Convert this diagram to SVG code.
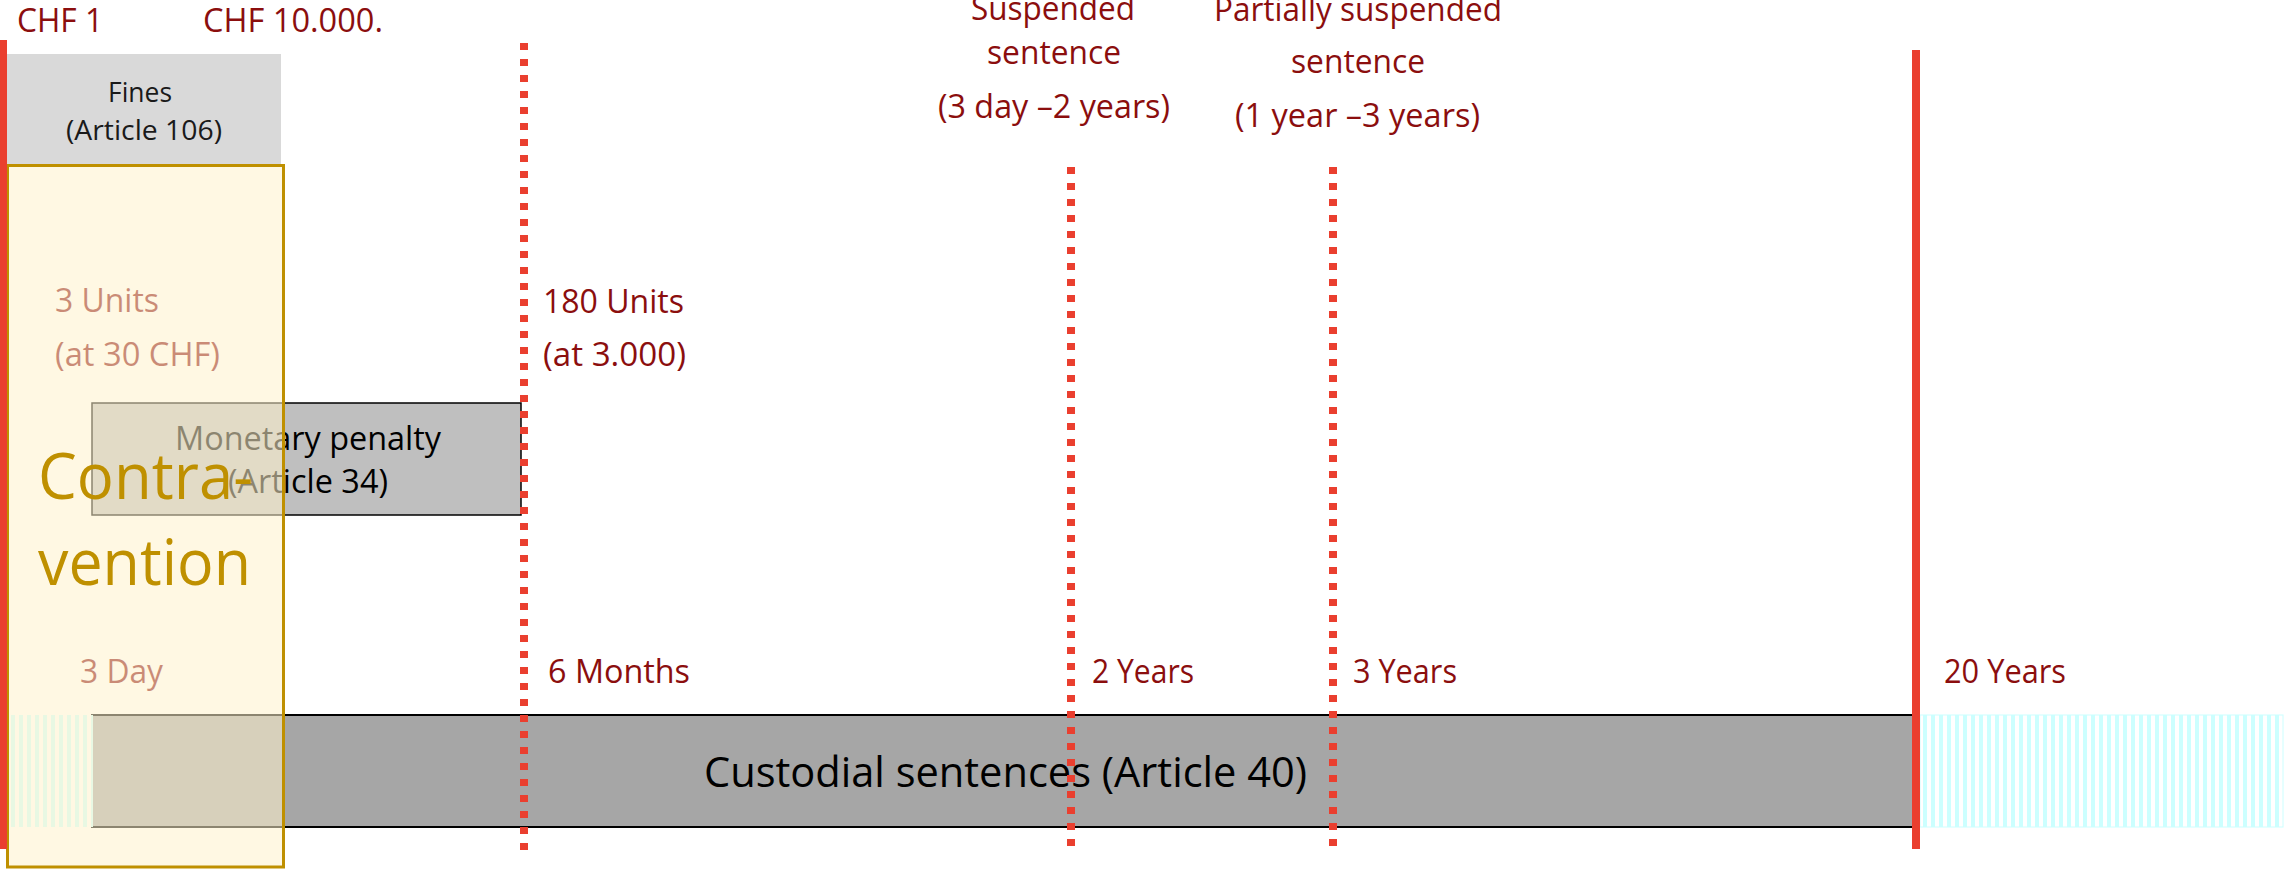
<svg xmlns="http://www.w3.org/2000/svg" width="2285" height="869" viewBox="0 0 2285 869">
  <style>
    text { font-family: "Open Sans", "Liberation Sans", sans-serif; }
    .lbl { font-size: 32.5px; fill: #8B0E0E; }
    .top { font-size: 33px; fill: #8B0E0E; }
    .blk { font-size: 32.5px; fill: #000000; }
    .fines { font-size: 28px; fill: #1a1a1a; }
    .big { font-size: 64px; fill: #BF9000; }
    .cust { font-size: 42px; fill: #000000; }
    .solid { fill: #EA3F2F; }
    .dot { stroke: #EA3F2F; stroke-width: 8; stroke-dasharray: 7 9; fill: none; }
  </style>
  <defs>
    <pattern id="vstripes" patternUnits="userSpaceOnUse" x="0" y="0" width="8" height="8">
      <rect x="0" y="0" width="8" height="8" fill="#FFFFFF"/>
      <rect x="3" y="0" width="4" height="8" fill="#CCFFFF"/>
    </pattern>
  </defs>

  <rect x="0" y="0" width="2285" height="869" fill="#FFFFFF"/>

  <!-- amount labels along the top edge -->
  <g id="amounts">
    <text class="top" x="17" y="32" textLength="86" lengthAdjust="spacingAndGlyphs">CHF 1</text>
    <text class="top" x="203" y="32" textLength="180" lengthAdjust="spacingAndGlyphs">CHF 10.000.</text>
  </g>

  <!-- fines block -->
  <g id="fines">
    <rect x="7" y="54" width="274" height="110" fill="#D9D9D9"/>
    <text class="fines" x="108" y="102" textLength="64" lengthAdjust="spacingAndGlyphs">Fines</text>
    <text class="fines" x="66" y="140" textLength="156" lengthAdjust="spacingAndGlyphs">(Article 106)</text>
  </g>

  <!-- lower bound labels (sit beneath the contravention panel) -->
  <g id="lower-bounds">
    <text class="lbl" x="55" y="312" textLength="104" lengthAdjust="spacingAndGlyphs">3 Units</text>
    <text class="lbl" x="55" y="366" textLength="165" lengthAdjust="spacingAndGlyphs">(at 30 CHF)</text>
    <text class="lbl" x="80" y="683" textLength="83" lengthAdjust="spacingAndGlyphs">3 Day</text>
  </g>

  <!-- monetary penalty bar -->
  <g id="monetary-penalty">
    <rect x="92" y="403" width="429" height="112" fill="#BFBFBF" stroke="#000000" stroke-width="1.5"/>
    <text class="blk" x="175" y="450" textLength="266" lengthAdjust="spacingAndGlyphs">Monetary penalty</text>
    <text class="blk" x="228" y="493" textLength="160" lengthAdjust="spacingAndGlyphs">(Article 34)</text>
  </g>

  <!-- custodial sentences bar with open-ended extensions -->
  <g id="custodial-sentences">
    <rect x="92" y="715" width="1823" height="112" fill="#A6A6A6" stroke="#000000" stroke-width="2"/>
    <text class="cust" x="704" y="787" textLength="603" lengthAdjust="spacingAndGlyphs">Custodial sentences (Article 40)</text>
  </g>
  <g id="custodial-short">
    <rect x="9" y="715" width="84" height="112" fill="url(#vstripes)"/>
  </g>
  <g id="custodial-long">
    <rect x="1920" y="715" width="363" height="112" fill="url(#vstripes)" stroke="#CCFFFF" stroke-width="1"/>
  </g>

  <!-- translucent contravention panel -->
  <g id="contravention">
    <rect x="7.5" y="165.5" width="276" height="701.5" fill="#FFF2CC" fill-opacity="0.55" stroke="#BF9000" stroke-width="3"/>
    <text class="big" x="38" y="499" textLength="215" lengthAdjust="spacingAndGlyphs">Contra-</text>
    <text class="big" x="38" y="585" textLength="213" lengthAdjust="spacingAndGlyphs">vention</text>
  </g>

  <!-- threshold lines -->
  <g id="connectors">
    <rect class="solid" x="0" y="40" width="7" height="809"/>
    <line class="dot" x1="524" y1="43" x2="524" y2="850"/>
    <line class="dot" x1="1071" y1="167" x2="1071" y2="848"/>
    <line class="dot" x1="1333" y1="167" x2="1333" y2="848"/>
    <rect class="solid" x="1912" y="50" width="8" height="799"/>
  </g>

  <!-- upper bound labels -->
  <g id="upper-bounds">
    <text class="lbl" x="543" y="313" textLength="141" lengthAdjust="spacingAndGlyphs">180 Units</text>
    <text class="lbl" x="543" y="366" textLength="143" lengthAdjust="spacingAndGlyphs">(at 3.000)</text>
    <text class="lbl" x="548" y="683" textLength="142" lengthAdjust="spacingAndGlyphs">6 Months</text>
    <text class="lbl" x="1092" y="683" textLength="102" lengthAdjust="spacingAndGlyphs">2 Years</text>
    <text class="lbl" x="1353" y="683" textLength="104" lengthAdjust="spacingAndGlyphs">3 Years</text>
    <text class="lbl" x="1944" y="683" textLength="122" lengthAdjust="spacingAndGlyphs">20 Years</text>
  </g>

  <g id="suspended">
    <text class="lbl" x="971" y="20" textLength="164" lengthAdjust="spacingAndGlyphs">Suspended</text>
    <text class="lbl" x="987" y="64" textLength="134" lengthAdjust="spacingAndGlyphs">sentence</text>
    <text class="lbl" x="938" y="118" textLength="232" lengthAdjust="spacingAndGlyphs">(3 day –2 years)</text>
  </g>

  <g id="partially-suspended">
    <text class="lbl" x="1214" y="21" textLength="288" lengthAdjust="spacingAndGlyphs">Partially suspended</text>
    <text class="lbl" x="1291" y="73" textLength="134" lengthAdjust="spacingAndGlyphs">sentence</text>
    <text class="lbl" x="1235" y="127" textLength="245" lengthAdjust="spacingAndGlyphs">(1 year –3 years)</text>
  </g>
</svg>
